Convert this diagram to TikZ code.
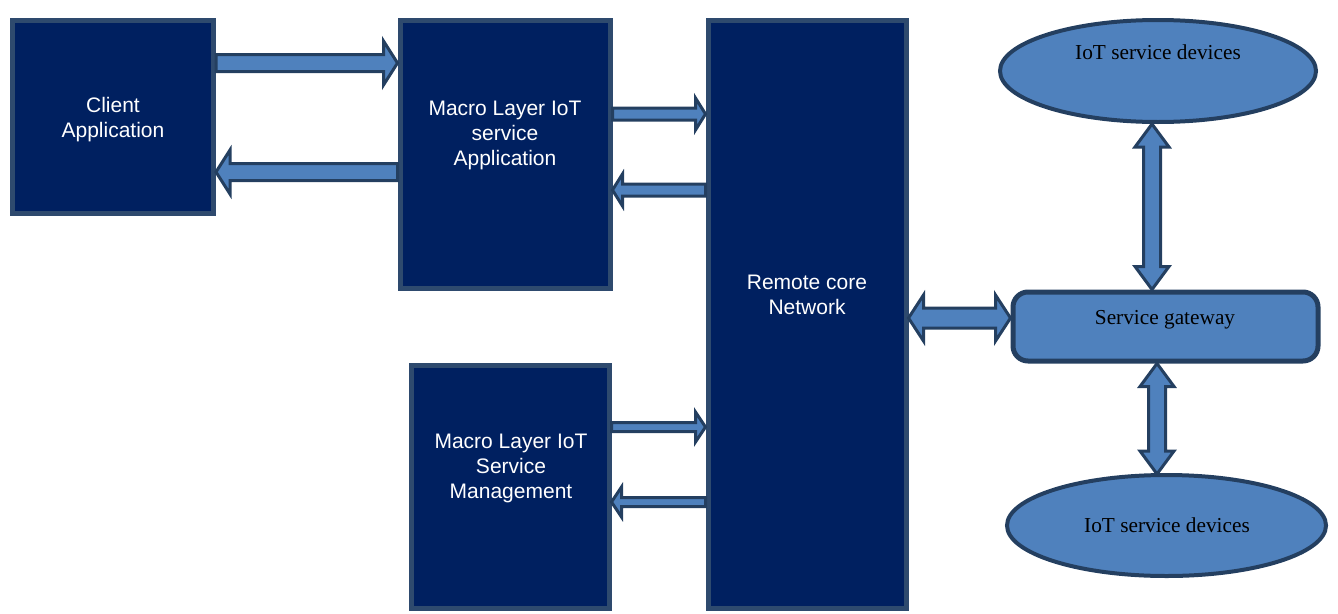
\documentclass[tikz,border=0pt]{standalone}
\usepackage{fontspec}
\setmainfont{Liberation Serif}
\newfontfamily\arialfont{Liberation Sans}
\usetikzlibrary{calc,shapes.geometric}
\definecolor{navy}{HTML}{002060}
\definecolor{boxline}{HTML}{2E4A6E}
\definecolor{arrline}{HTML}{243F60}
\definecolor{arrfill}{HTML}{4F81BD}
\tikzset{
  darkbox/.style={draw=boxline, fill=navy, line width=5pt, minimum width=#1, inner sep=0pt},
  boxtext/.style={text=white, font=\arialfont\fontsize{21}{25}\selectfont, align=center},
  lighttext/.style={text=black, font=\fontsize{21.3}{25}\selectfont, align=center},
  blueshape/.style={draw=arrline, fill=arrfill, line width=4pt, inner sep=0pt},
  blockarrow/.style={draw=arrline, fill=arrfill, line width=3pt, line join=miter}
}
% #1 from, #2 to, #3 shaft half width, #4 head half width, #5 head length (numbers, in pt)
\newcommand\onearrow[5]{%
  \coordinate (hb) at ($(#2)!#5pt!(#1)$);
  \draw[blockarrow] ($(#1)!#3pt!90:(#2)$) -- ($(hb)!#3pt!90:(#2)$) -- ($(hb)!#4pt!90:(#2)$) -- (#2)
    -- ($(hb)!#4pt!-90:(#2)$) -- ($(hb)!#3pt!-90:(#2)$) -- ($(#1)!#3pt!-90:(#2)$) -- cycle;}
\newcommand\twoarrow[5]{%
  \coordinate (hba) at ($(#1)!#5pt!(#2)$);
  \coordinate (hbb) at ($(#2)!#5pt!(#1)$);
  \draw[blockarrow] (#1) -- ($(hba)!#4pt!90:(#2)$) -- ($(hba)!#3pt!90:(#2)$) -- ($(hbb)!#3pt!90:(#2)$)
    -- ($(hbb)!#4pt!90:(#2)$) -- (#2) -- ($(hbb)!#4pt!-90:(#2)$) -- ($(hbb)!#3pt!-90:(#2)$)
    -- ($(hba)!#3pt!-90:(#2)$) -- ($(hba)!#4pt!-90:(#2)$) -- cycle;}
\begin{document}
\begin{tikzpicture}[x=1pt,y=-1pt]
\useasboundingbox (0,0) rectangle (1338,613);
% boxes
\node[darkbox=201pt, minimum height=193pt] (client) at (113,117) {};
\node[darkbox=210pt, minimum height=268pt] (mapp) at (505,154) {};
\node[darkbox=198pt, minimum height=588pt] (remote) at (807,314) {};
\node[darkbox=198pt, minimum height=243pt] (mgmt) at (510,486.5) {};
\node[blueshape, ellipse, minimum width=316pt, minimum height=102pt] (ell1) at (1158,71) {};
\node[blueshape, line width=5pt, rounded corners=15pt, minimum width=305pt, minimum height=69pt] (gw) at (1165.5,326.5) {};
\node[blueshape, ellipse, minimum width=319pt, minimum height=101pt] (ell2) at (1166.5,525.5) {};
% texts
\node[boxtext] (clienttxt) at (113,120) {Client\\Application};
\node[boxtext] (mapptxt) at (505,135) {Macro Layer IoT\\service\\Application};
\node[boxtext] (remotetxt) at (807,295) {Remote core\\Network};
\node[boxtext] (mgmttxt) at (511,468) {Macro Layer IoT\\Service\\Management};
\node[lighttext] (ell1txt) at (1158,52) {IoT service devices};
\node[lighttext] (gwtxt) at (1165,320) {Service gateway};
\node[lighttext] (ell2txt) at (1167,525) {IoT service devices};
% arrow end points
\coordinate (a1s) at (client.east |- 0,63);
\coordinate (a1e) at (mapp.west |- 0,63);
\coordinate (a2s) at (mapp.west |- 0,172);
\coordinate (a2e) at (client.east |- 0,172);
\coordinate (a3s) at (mapp.east |- 0,114);
\coordinate (a3e) at (remote.west |- 0,114);
\coordinate (a4s) at (remote.west |- 0,190);
\coordinate (a4e) at (mapp.east |- 0,190);
\coordinate (a5s) at (mgmt.east |- 0,427);
\coordinate (a5e) at (remote.west |- 0,427);
\coordinate (a6s) at (remote.west |- 0,502);
\coordinate (a6e) at (mgmt.east |- 0,502);
\coordinate (a7s) at (remote.east |- 0,318);
\coordinate (a7e) at (gw.west |- 0,318);
\coordinate (a8s) at ($(ell1.south)+(-6,0)$);
\coordinate (a8e) at (1152,0 |- gw.north);
\coordinate (a9s) at (1157,0 |- gw.south);
\coordinate (a9e) at ($(ell2.north)+(-9.5,1)$);
% arrows
\onearrow{a1s}{a1e}{8.5}{22}{14}
\onearrow{a2s}{a2e}{8.5}{22}{14}
\onearrow{a3s}{a3e}{6}{16}{10}
\onearrow{a4s}{a4e}{6}{16}{10}
\onearrow{a5s}{a5e}{4.5}{15}{10}
\onearrow{a6s}{a6e}{4.5}{15}{10}
\twoarrow{a7s}{a7e}{10}{23}{15}
\twoarrow{a8s}{a8e}{8.5}{17}{23}
\twoarrow{a9s}{a9e}{8.5}{17}{23}
\end{tikzpicture}
\end{document}
